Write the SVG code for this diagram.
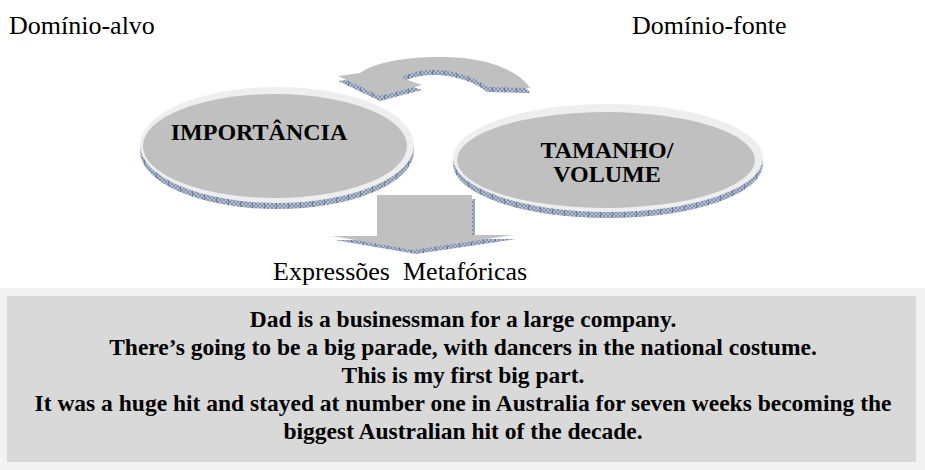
<svg xmlns="http://www.w3.org/2000/svg" width="925" height="470" viewBox="0 0 925 470">
  <style>
    .lbl { font-family: "Liberation Serif", "Times New Roman", serif; font-size: 26px; fill: #000; }
    .node { font-family: "Liberation Serif", "Times New Roman", serif; font-size: 24px; font-weight: bold; fill: #000; text-anchor: middle; }
    .ex { font-family: "Liberation Serif", "Times New Roman", serif; font-size: 23.5px; font-weight: bold; fill: #000; text-anchor: middle; }
    .face { fill: #c0c0c0; }
    .rim { fill: #eeeeee; }
    .side { fill: url(#hatch); }
  </style>
  <defs>
    <!-- cross-hatched extrusion used for the 3D sides -->
    <pattern id="hatch" patternUnits="userSpaceOnUse" width="12" height="4">
      <rect width="12" height="4" fill="#b3bdd0"/>
      <path d="M0,4 L4,0 M4,4 L8,0 M8,4 L12,0 M0,0 L4,4 M4,0 L8,4 M8,0 L12,4" stroke="#7787a6" stroke-width="0.8"/>
      <path d="M0,0 V4" stroke="#3c4f78" stroke-width="1"/>
    </pattern>
  </defs>

  <!-- domain labels -->
  <text class="lbl" x="9" y="34">Domínio-alvo</text>
  <text class="lbl" x="632" y="34">Domínio-fonte</text>

  <!-- connectors -->
  <g id="connectors">
    <g id="curved-arrow">
      <path class="side" transform="translate(0,5)" d="M338,76 L360,73 C376,61 412,56 447,57 C490,58 520,72 530,88 L487,87 C476,77 452,69 430,70 C416,71 406,74 402,78 L422,85 L380,96 Z"/>
      <path class="face" d="M338,76 L360,73 C376,61 412,56 447,57 C490,58 520,72 530,88 L487,87 C476,77 452,69 430,70 C416,71 406,74 402,78 L422,85 L380,96 Z"/>
    </g>
    <g id="down-arrow">
      <path class="side" transform="translate(3,4)" d="M377,195 L472,195 L472,235 L513,235 L413,250 L332,236 L377,236 Z"/>
      <path class="face" d="M377,195 L472,195 L472,235 L513,235 L413,250 L332,236 L377,236 Z"/>
    </g>
  </g>

  <!-- target domain -->
  <g id="importancia">
    <ellipse class="side" cx="277" cy="151" rx="137" ry="58"/>
    <ellipse class="rim" cx="277" cy="145" rx="137" ry="58"/>
    <ellipse class="face" cx="275" cy="146" rx="132" ry="52"/>
    <text class="node" x="259" y="140">IMPORTÂNCIA</text>
  </g>

  <!-- source domain -->
  <g id="tamanho-volume">
    <ellipse class="side" cx="608" cy="164" rx="155" ry="54"/>
    <ellipse class="rim" cx="608" cy="158" rx="155" ry="54"/>
    <ellipse class="face" cx="606" cy="160" rx="149" ry="48"/>
    <text class="node" x="607" y="158">TAMANHO/</text>
    <text class="node" x="607" y="182">VOLUME</text>
  </g>

  <text class="lbl" x="273" y="280" xml:space="preserve">Expressões  Metafóricas</text>

  <!-- metaphorical expressions box -->
  <g id="expressoes">
    <rect x="0" y="288" width="925" height="182" fill="#f2f2f2"/>
    <rect x="7" y="296" width="909" height="166" fill="#d9d9d9"/>
    <text class="ex" x="463" y="327">Dad is a businessman for a large company.</text>
    <text class="ex" x="463" y="355">There’s going to be a big parade, with dancers in the national costume.</text>
    <text class="ex" x="463" y="383">This is my first big part.</text>
    <text class="ex" x="463" y="411">It was a huge hit and stayed at number one in Australia for seven weeks becoming the</text>
    <text class="ex" x="463" y="439">biggest Australian hit of the decade.</text>
  </g>
</svg>
